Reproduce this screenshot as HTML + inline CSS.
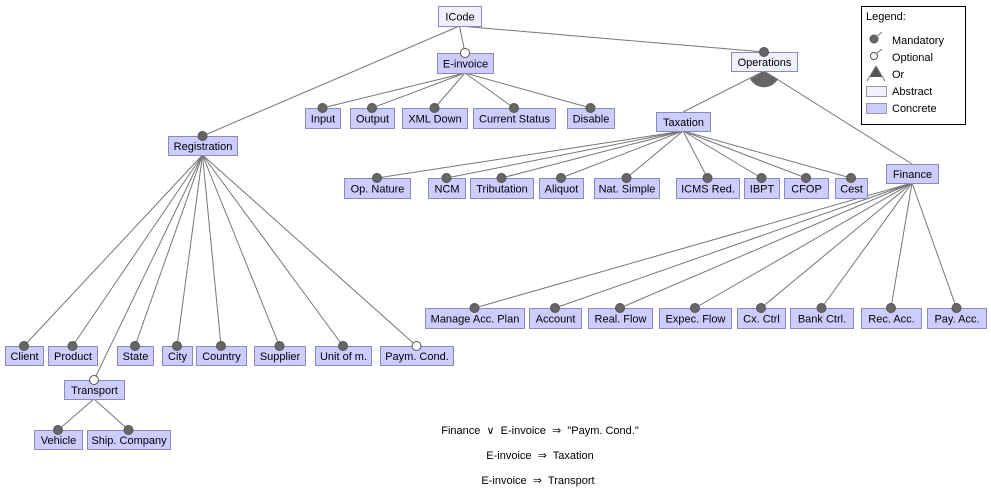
<!DOCTYPE html>
<html><head><meta charset="utf-8"><style>
html,body{margin:0;padding:0;background:#fff;}
svg{display:block;font-family:"Liberation Sans",Arial,sans-serif;font-size:11px;}
.c{fill:#ccccff;stroke:#8a8ac0;stroke-width:1}
.a{fill:#f0f0ff;stroke:#8a8ac0;stroke-width:1}
line{stroke:#777;stroke-width:1}
.m{fill:#666;stroke:#555}
.o{fill:#fff;stroke:#555}
text{fill:#000;text-anchor:middle}
.pre{white-space:pre}
</style></head><body>
<svg width="991" height="491" viewBox="0 0 991 491">
<line x1="459.5" y1="26" x2="465" y2="53"/>
<line x1="459.5" y1="26" x2="764" y2="52"/>
<line x1="459.5" y1="26" x2="202.5" y2="136"/>
<g>
<line x1="465" y1="73" x2="322.5" y2="108"/><line x1="465" y1="73" x2="372" y2="108"/><line x1="465" y1="73" x2="434.5" y2="108"/><line x1="465" y1="73" x2="514" y2="108"/><line x1="465" y1="73" x2="590.5" y2="108"/>
</g>
<line x1="764" y1="71" x2="683" y2="112"/><line x1="764" y1="71" x2="912" y2="164"/>
<g>
<line x1="683" y1="131" x2="377" y2="178"/><line x1="683" y1="131" x2="446.5" y2="178"/><line x1="683" y1="131" x2="501.5" y2="178"/><line x1="683" y1="131" x2="561" y2="178"/><line x1="683" y1="131" x2="626.5" y2="178"/><line x1="683" y1="131" x2="707.5" y2="178"/><line x1="683" y1="131" x2="761.5" y2="178"/><line x1="683" y1="131" x2="806" y2="178"/><line x1="683" y1="131" x2="851" y2="178"/>
</g>
<g>
<line x1="912" y1="183" x2="474.5" y2="308"/><line x1="912" y1="183" x2="555" y2="308"/><line x1="912" y1="183" x2="620" y2="308"/><line x1="912" y1="183" x2="695" y2="308"/><line x1="912" y1="183" x2="761" y2="308"/><line x1="912" y1="183" x2="821.5" y2="308"/><line x1="912" y1="183" x2="891" y2="308"/><line x1="912" y1="183" x2="956.5" y2="308"/>
</g>
<g>
<line x1="202.5" y1="155" x2="24" y2="346"/><line x1="202.5" y1="155" x2="72.5" y2="346"/><line x1="202.5" y1="155" x2="135" y2="346"/><line x1="202.5" y1="155" x2="177" y2="346"/><line x1="202.5" y1="155" x2="221" y2="346"/><line x1="202.5" y1="155" x2="279.5" y2="346"/><line x1="202.5" y1="155" x2="343" y2="346"/><line x1="202.5" y1="155" x2="416.5" y2="346"/><line x1="202.5" y1="155" x2="94" y2="380"/>
</g>
<line x1="94" y1="399" x2="58" y2="430"/><line x1="94" y1="399" x2="128.5" y2="430"/>
<path d="M764,71 L750,79 A16,16 0 0 0 778,79 Z" fill="#666"/>
<rect class="a" x="438.5" y="6.5" width="43" height="20"/><text x="460" y="20.5">ICode</text>
<rect class="c" x="437.5" y="53.5" width="56" height="20"/><text x="465.5" y="67.5">E-invoice</text>
<rect class="a" x="731.5" y="52.5" width="66" height="19"/><text x="764.5" y="66">Operations</text>
<rect class="c" x="305.5" y="108.5" width="35" height="20"/><text x="323" y="122.5">Input</text>
<rect class="c" x="350.5" y="108.5" width="44" height="20"/><text x="372.5" y="122.5">Output</text>
<rect class="c" x="402.5" y="108.5" width="65" height="20"/><text x="435" y="122.5">XML Down</text>
<rect class="c" x="473.5" y="108.5" width="82" height="20"/><text x="514.5" y="122.5">Current Status</text>
<rect class="c" x="567.5" y="108.5" width="47" height="20"/><text x="591" y="122.5">Disable</text>
<rect class="c" x="656.5" y="112.5" width="54" height="19"/><text x="683.5" y="126">Taxation</text>
<rect class="c" x="168.5" y="136.5" width="69" height="19"/><text x="203" y="150">Registration</text>
<rect class="c" x="344.5" y="178.5" width="66" height="20"/><text x="377.5" y="192.5">Op. Nature</text>
<rect class="c" x="428.5" y="178.5" width="37" height="20"/><text x="447" y="192.5">NCM</text>
<rect class="c" x="470.5" y="178.5" width="63" height="20"/><text x="502" y="192.5">Tributation</text>
<rect class="c" x="539.5" y="178.5" width="44" height="20"/><text x="561.5" y="192.5">Aliquot</text>
<rect class="c" x="594.5" y="178.5" width="65" height="20"/><text x="627" y="192.5">Nat. Simple</text>
<rect class="c" x="676.5" y="178.5" width="63" height="20"/><text x="708" y="192.5">ICMS Red.</text>
<rect class="c" x="744.5" y="178.5" width="35" height="20"/><text x="762" y="192.5">IBPT</text>
<rect class="c" x="784.5" y="178.5" width="44" height="20"/><text x="806.5" y="192.5">CFOP</text>
<rect class="c" x="835.5" y="178.5" width="32" height="20"/><text x="851.5" y="192.5">Cest</text>
<rect class="c" x="886.5" y="164.5" width="52" height="19"/><text x="912.5" y="178">Finance</text>
<rect class="c" x="425.5" y="308.5" width="99" height="20"/><text x="475" y="322.5">Manage Acc. Plan</text>
<rect class="c" x="529.5" y="308.5" width="52" height="20"/><text x="555.5" y="322.5">Account</text>
<rect class="c" x="588.5" y="308.5" width="64" height="20"/><text x="620.5" y="322.5">Real. Flow</text>
<rect class="c" x="659.5" y="308.5" width="72" height="20"/><text x="695.5" y="322.5">Expec. Flow</text>
<rect class="c" x="737.5" y="308.5" width="48" height="20"/><text x="761.5" y="322.5">Cx. Ctrl</text>
<rect class="c" x="790.5" y="308.5" width="63" height="20"/><text x="822" y="322.5">Bank Ctrl.</text>
<rect class="c" x="861.5" y="308.5" width="60" height="20"/><text x="891.5" y="322.5">Rec. Acc.</text>
<rect class="c" x="927.5" y="308.5" width="59" height="20"/><text x="957" y="322.5">Pay. Acc.</text>
<rect class="c" x="5.5" y="346.5" width="38" height="19"/><text x="24.5" y="360">Client</text>
<rect class="c" x="48.5" y="346.5" width="49" height="19"/><text x="73" y="360">Product</text>
<rect class="c" x="117.5" y="346.5" width="36" height="19"/><text x="135.5" y="360">State</text>
<rect class="c" x="162.5" y="346.5" width="30" height="19"/><text x="177.5" y="360">City</text>
<rect class="c" x="196.5" y="346.5" width="50" height="19"/><text x="221.5" y="360">Country</text>
<rect class="c" x="254.5" y="346.5" width="51" height="19"/><text x="280" y="360">Supplier</text>
<rect class="c" x="315.5" y="346.5" width="56" height="19"/><text x="343.5" y="360">Unit of m.</text>
<rect class="c" x="380.5" y="346.5" width="73" height="19"/><text x="417" y="360">Paym. Cond.</text>
<rect class="c" x="64.5" y="380.5" width="60" height="19"/><text x="94.5" y="394">Transport</text>
<rect class="c" x="34.5" y="430.5" width="48" height="19"/><text x="58.5" y="444">Vehicle</text>
<rect class="c" x="87.5" y="430.5" width="83" height="19"/><text x="129" y="444">Ship. Company</text>
<circle class="o" cx="465" cy="53" r="4.5"/>
<circle class="m" cx="764" cy="52" r="4.5"/>
<circle class="m" cx="202.5" cy="136" r="4.5"/>
<g>
<circle cx="322.5" cy="108" r="4.5" class="m"/><circle cx="372" cy="108" r="4.5" class="m"/><circle cx="434.5" cy="108" r="4.5" class="m"/><circle cx="514" cy="108" r="4.5" class="m"/><circle cx="590.5" cy="108" r="4.5" class="m"/>
<circle cx="377" cy="178" r="4.5" class="m"/><circle cx="446.5" cy="178" r="4.5" class="m"/><circle cx="501.5" cy="178" r="4.5" class="m"/><circle cx="561" cy="178" r="4.5" class="m"/><circle cx="626.5" cy="178" r="4.5" class="m"/><circle cx="707.5" cy="178" r="4.5" class="m"/><circle cx="761.5" cy="178" r="4.5" class="m"/><circle cx="806" cy="178" r="4.5" class="m"/><circle cx="851" cy="178" r="4.5" class="m"/>
<circle cx="474.5" cy="308" r="4.5" class="m"/><circle cx="555" cy="308" r="4.5" class="m"/><circle cx="620" cy="308" r="4.5" class="m"/><circle cx="695" cy="308" r="4.5" class="m"/><circle cx="761" cy="308" r="4.5" class="m"/><circle cx="821.5" cy="308" r="4.5" class="m"/><circle cx="891" cy="308" r="4.5" class="m"/><circle cx="956.5" cy="308" r="4.5" class="m"/>
<circle cx="24" cy="346" r="4.5" class="m"/><circle cx="72.5" cy="346" r="4.5" class="m"/><circle cx="135" cy="346" r="4.5" class="m"/><circle cx="177" cy="346" r="4.5" class="m"/><circle cx="221" cy="346" r="4.5" class="m"/><circle cx="279.5" cy="346" r="4.5" class="m"/><circle cx="343" cy="346" r="4.5" class="m"/>
<circle cx="58" cy="430" r="4.5" class="m"/><circle cx="128.5" cy="430" r="4.5" class="m"/>
</g>
<circle class="o" cx="416.5" cy="346" r="4.5"/>
<circle class="o" cx="94" cy="380" r="4.5"/>
<text class="pre" x="540" y="434">Finance  ∨  E-invoice  ⇒  "Paym. Cond."</text>
<text class="pre" x="540" y="459">E-invoice  ⇒  Taxation</text>
<text class="pre" x="538" y="484">E-invoice  ⇒  Transport</text>
<rect x="861.5" y="6.5" width="104" height="118" fill="#fff" stroke="#000"/>
<text x="866" y="20" style="text-anchor:start">Legend:</text>
<circle cx="874" cy="39" r="4" fill="#666" stroke="#555"/><line x1="876" y1="37" x2="882" y2="32"/>
<text x="892" y="44" style="text-anchor:start">Mandatory</text>
<circle cx="874" cy="56" r="3.5" fill="#fff" stroke="#555"/><line x1="876" y1="54" x2="882" y2="49"/>
<text x="892" y="61" style="text-anchor:start">Optional</text>
<path d="M876,66 L870,77 L882,77 Z" fill="#555"/><line x1="876" y1="66" x2="867" y2="81"/><line x1="876" y1="66" x2="885" y2="81"/>
<text x="892" y="78" style="text-anchor:start">Or</text>
<rect x="866.5" y="86.5" width="20" height="10" fill="#f0f0ff" stroke="#999"/>
<text x="892" y="95" style="text-anchor:start">Abstract</text>
<rect x="866.5" y="103.5" width="20" height="10" fill="#ccccff" stroke="#999"/>
<text x="892" y="112" style="text-anchor:start">Concrete</text>
</svg>
</body></html>
